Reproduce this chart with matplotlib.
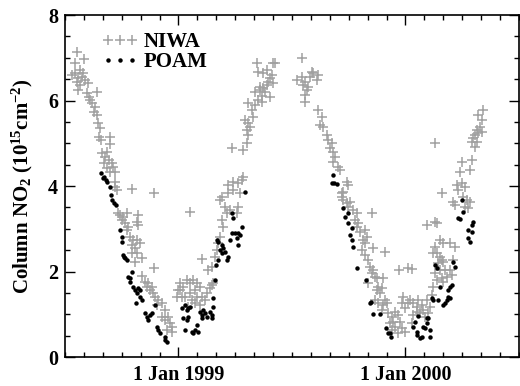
import matplotlib
matplotlib.use("Agg")
import matplotlib.pyplot as plt
import numpy as np

# NIWA ground-based column NO2 (decimal year, 1e15 cm^-2)
niwa_t = [
    1998.553, 1998.584, 1998.544, 1998.531, 1998.544, 1998.566, 1998.575, 1998.557, 1998.588, 1998.553,
    1998.566, 1998.557, 1998.601, 1998.579, 1998.597, 1998.606, 1998.610, 1998.641, 1998.619, 1998.632,
    1998.628, 1998.641, 1998.645, 1998.654, 1998.650, 1998.659, 1998.698, 1998.698, 1998.663, 1998.676,
    1998.685, 1998.694, 1998.672, 1998.707, 1998.711, 1998.685, 1998.698, 1998.720, 1998.720, 1998.720,
    1998.795, 1998.892, 1998.729, 1998.742, 1998.755, 1998.751, 1998.733, 1998.773, 1998.822, 1998.764,
    1998.778, 1998.773, 1998.817, 1998.822, 1998.786, 1998.800, 1998.817, 1998.795, 1998.808, 1998.830,
    1998.839, 1998.808, 1998.817, 1998.795, 1998.892, 1998.839, 1998.852, 1998.866, 1998.883, 1998.861,
    1998.874, 1998.888, 1998.896, 1998.910, 1998.927, 1998.905, 1998.941, 1998.927, 1998.941, 1998.954,
    1998.963, 1998.971, 1998.949, 1998.971, 1998.993, 1998.998, 1999.007,
    1999.007, 1999.020, 1999.037, 1999.051, 1999.064, 1999.081, 1999.095, 1999.073, 1999.051, 1999.081,
    1999.104, 1999.117, 1999.126, 1999.139, 1999.148, 1999.152, 1999.059, 1999.073, 1999.042, 1999.029,
    1999.015, 1999.095,
    1999.130, 1999.148, 1999.104, 1999.051, 1999.161, 1999.170, 1999.174, 1999.183, 1999.196, 1999.192,
    1999.214, 1999.227, 1999.205, 1999.183, 1999.192, 1999.218, 1999.240, 1999.262, 1999.258, 1999.271,
    1999.218, 1999.240, 1999.262, 1999.280, 1999.284, 1999.236, 1999.284, 1999.302, 1999.306, 1999.302,
    1999.315, 1999.306, 1999.293, 1999.328, 1999.324, 1999.337, 1999.306, 1999.350, 1999.337, 1999.359,
    1999.372, 1999.390, 1999.394, 1999.403, 1999.416, 1999.359, 1999.381, 1999.412, 1999.350, 1999.346,
    1999.372, 1999.425, 1999.368, 1999.390, 1999.416, 1999.403, 1999.368,
    1999.544, 1999.522, 1999.544, 1999.557, 1999.579, 1999.593, 1999.610, 1999.570, 1999.548, 1999.588,
    1999.615, 1999.566, 1999.557, 1999.557, 1999.615, 1999.632, 1999.623, 1999.637, 1999.654, 1999.659,
    1999.676, 1999.667, 1999.681, 1999.689, 1999.681, 1999.703, 1999.711, 1999.742, 1999.747, 1999.725,
    1999.720,
    1999.720, 1999.725, 1999.742, 1999.756, 1999.747, 1999.769, 1999.786, 1999.778, 1999.791, 1999.786,
    1999.800, 1999.822, 1999.813, 1999.822, 1999.808, 1999.852, 1999.830, 1999.857, 1999.910, 1999.822,
    1999.835, 1999.844, 1999.857, 1999.852, 1999.866, 1999.874, 1999.835, 1999.901, 1999.879, 1999.896,
    1999.874, 1999.888, 1999.866, 1999.910, 1999.879, 1999.901, 1999.919, 1999.896, 1999.923, 1999.941,
    1999.954, 1999.967, 1999.945, 1999.932, 1999.954, 1999.976, 1999.985, 1999.998, 1999.941, 1999.967,
    1999.989, 1999.985, 1999.998, 2000.011, 1999.971, 2000.011,
    2000.020, 2000.033, 2000.051, 2000.055, 2000.073, 2000.077, 2000.064, 2000.086, 2000.099, 2000.108,
    2000.095, 2000.051, 2000.033, 2000.029, 2000.117, 2000.121, 2000.139, 2000.130, 2000.161, 2000.165,
    2000.183, 2000.205, 2000.196, 2000.174, 2000.152, 2000.143, 2000.139, 2000.121, 2000.152, 2000.161,
    2000.165, 2000.152, 2000.165, 2000.130, 2000.196, 2000.218, 2000.209, 2000.029, 2000.095, 2000.130,
    2000.139, 2000.161, 2000.218, 2000.209, 2000.231, 2000.253, 2000.271, 2000.275, 2000.262, 2000.284,
    2000.130, 2000.341, 2000.319, 2000.337, 2000.328, 2000.315, 2000.306, 2000.297, 2000.315, 2000.293,
    2000.306, 2000.319, 2000.337, 2000.249, 2000.293, 2000.240, 2000.284, 2000.227, 2000.249, 2000.262,
]
niwa_no2 = [
    7.13, 6.97, 6.88, 6.60, 6.64, 6.71, 6.55, 6.53, 6.48, 6.43,
    6.36, 6.25, 6.41, 6.64, 6.18, 6.08, 6.01, 6.20, 5.94, 5.85,
    5.73, 5.66, 5.47, 5.36, 5.15, 5.08, 5.15, 4.98, 4.77, 4.68,
    4.80, 4.61, 4.54, 4.54, 4.44, 4.42, 4.33, 4.33, 4.09, 3.98,
    3.93, 3.84, 3.91, 3.32, 3.27, 3.20, 3.37, 3.37, 3.32, 3.13,
    3.04, 2.97, 3.16, 3.09, 2.81, 2.74, 2.74, 2.62, 2.55, 2.67,
    2.32, 2.22, 2.43, 2.43, 2.08, 1.89, 1.75, 1.73, 1.64, 1.64,
    1.57, 1.50, 1.40, 1.33, 1.26, 1.22, 1.10, 0.94, 0.87, 0.94,
    0.80, 0.70, 0.63, 0.58, 1.40, 1.57, 1.73,
    1.57, 1.64, 1.80, 1.73, 1.80, 1.73, 1.64, 1.57, 1.50, 1.40,
    1.40, 1.33, 1.50, 1.61, 1.68, 1.73, 1.33, 1.26, 1.17, 1.40,
    1.40, 1.22,
    2.04, 2.11, 2.29, 3.39, 2.34, 2.50, 2.67, 2.81, 3.04, 3.20,
    3.37, 3.44, 3.51, 3.67, 3.74, 3.84, 3.91, 3.51, 3.37, 3.84,
    4.02, 4.09, 4.07, 4.14, 4.21, 4.89, 4.84, 5.01, 5.19, 5.31,
    5.38, 5.47, 5.54, 5.61, 5.78, 5.89, 5.94, 6.01, 6.20, 6.25,
    6.29, 6.36, 6.43, 6.53, 6.41, 6.32, 6.20, 6.60, 6.67, 6.88,
    6.64, 6.88, 6.11, 6.71, 6.88, 6.08, 5.96,
    6.99, 6.48, 6.55, 6.43, 6.55, 6.64, 6.48, 6.32, 6.36, 6.67,
    6.60, 6.25, 6.13, 5.96, 5.78, 5.61, 5.43, 5.38, 5.19, 5.08,
    5.01, 4.89, 4.80, 4.68, 4.56, 4.44, 4.37, 4.09, 4.02, 3.86,
    3.74,
    3.84, 3.67, 3.60, 3.63, 3.51, 3.44, 3.37, 3.20, 3.13, 3.04,
    2.92, 2.97, 2.74, 2.67, 2.50, 3.37, 2.81, 2.55, 2.46, 2.39,
    2.27, 2.11, 2.04, 1.96, 1.87, 1.85, 1.73, 1.85, 1.64, 1.61,
    1.57, 1.50, 1.33, 1.33, 1.26, 1.22, 1.26, 1.10, 1.03, 0.94,
    1.05, 0.98, 0.82, 0.80, 0.70, 0.82, 0.68, 0.58, 0.63, 0.56,
    1.40, 1.26, 1.15, 1.26, 2.04, 2.08,
    1.33, 1.26, 1.17, 1.33, 1.22, 1.10, 1.03, 0.94, 1.03, 1.17,
    1.33, 1.05, 0.98, 0.80, 1.45, 1.64, 1.80, 1.96, 1.85, 1.75,
    1.87, 1.92, 2.04, 2.04, 2.04, 2.20, 2.43, 2.43, 2.34, 2.27,
    2.22, 2.74, 2.67, 2.57, 2.67, 2.57, 2.27, 2.06, 3.09, 3.16,
    3.13, 3.84, 3.56, 3.63, 3.91, 3.74, 3.67, 3.49, 3.51, 3.63,
    5.01, 5.78, 5.66, 5.54, 5.38, 5.31, 5.19, 5.12, 5.03, 5.03,
    4.91, 5.24, 5.26, 4.56, 4.61, 4.33, 4.37, 4.02, 4.07, 3.98,
]

# POAM satellite column NO2
poam_t = [
    1998.659, 1998.672, 1998.681, 1998.667, 1998.685, 1998.698, 1998.703, 1998.707, 1998.716, 1998.725,
    1998.742, 1998.751, 1998.751, 1998.755, 1998.764, 1998.773, 1998.760, 1998.778, 1998.786, 1998.795,
    1998.786, 1998.800, 1998.808, 1998.817, 1998.822, 1998.830, 1998.830, 1998.839, 1998.813, 1998.852,
    1998.861, 1998.866, 1998.874, 1998.883, 1998.896, 1998.905, 1998.910, 1998.919, 1998.941, 1998.949,
    1998.941,
    1999.015, 1999.029, 1999.037, 1999.042, 1999.051, 1999.020, 1999.037, 1999.042, 1999.029, 1999.059,
    1999.064, 1999.073, 1999.081, 1999.086, 1999.095, 1999.104, 1999.108, 1999.104, 1999.117, 1999.126,
    1999.139, 1999.148, 1999.148, 1999.152, 1999.152, 1999.161, 1999.165, 1999.174, 1999.183, 1999.170,
    1999.174, 1999.192, 1999.196, 1999.205, 1999.192, 1999.218, 1999.214, 1999.227, 1999.236, 1999.249,
    1999.258, 1999.262, 1999.271, 1999.262, 1999.280, 1999.240, 1999.236, 1999.293,
    1999.681, 1999.676, 1999.685, 1999.698,
    1999.725, 1999.733, 1999.747, 1999.747, 1999.764, 1999.756, 1999.764, 1999.769, 1999.786, 1999.826,
    1999.844, 1999.848, 1999.857, 1999.888, 1999.914, 1999.923, 1999.932, 1999.936,
    2000.055, 2000.042, 2000.033, 2000.051, 2000.051, 2000.064, 2000.073, 2000.086, 2000.095, 2000.099,
    2000.077, 2000.108, 2000.108, 2000.095, 2000.117, 2000.121, 2000.143, 2000.152, 2000.165, 2000.174,
    2000.183, 2000.187, 2000.196, 2000.187, 2000.196, 2000.205, 2000.130, 2000.139, 2000.209, 2000.218,
    2000.275, 2000.284, 2000.275, 2000.293, 2000.297, 2000.293, 2000.231, 2000.240, 2000.253, 2000.249,
]
poam_no2 = [
    4.30, 4.21, 4.14, 4.19, 4.09, 3.98, 3.79, 3.67, 3.60, 3.56,
    2.97, 2.81, 2.69, 2.39, 2.32, 2.27, 2.34, 1.87, 1.85, 1.99,
    1.75, 1.64, 1.57, 1.50, 1.61, 1.57, 1.40, 1.33, 1.26, 1.03,
    0.94, 0.87, 0.98, 1.03, 1.22, 0.70, 0.63, 0.56, 0.47, 0.35,
    0.40,
    1.15, 1.22, 1.10, 1.15, 1.17, 0.91, 0.87, 0.94, 0.63, 0.58,
    0.56, 0.63, 0.75, 0.58, 1.05, 0.98, 1.10, 0.91, 1.03, 0.94,
    1.05, 0.98, 0.91, 1.17, 1.38, 1.80, 2.15, 2.27, 2.50, 2.74,
    2.69, 2.62, 2.55, 2.46, 2.43, 2.34, 2.27, 2.74, 2.90, 2.90,
    2.78, 2.90, 2.85, 2.62, 3.04, 3.25, 3.37, 3.86,
    4.26, 4.07, 4.07, 4.05,
    3.49, 3.27, 3.37, 3.13, 3.02, 2.85, 2.74, 2.57, 2.08, 1.80,
    1.26, 1.29, 1.01, 1.01, 0.68, 0.56, 0.56, 0.47,
    0.96, 0.82, 0.70, 0.58, 0.51, 0.44, 0.47, 0.68, 0.80, 0.91,
    0.70, 0.63, 0.47, 0.91, 1.38, 1.33, 1.33, 1.64, 1.22, 1.26,
    1.33, 1.40, 1.38, 1.57, 1.64, 1.68, 2.15, 2.08, 2.22, 2.11,
    2.78, 2.69, 2.97, 3.09, 3.16, 2.92, 3.25, 3.23, 3.39, 3.67,
]

major_x = [1999.0, 2000.0]
major_x_labels = ['1 Jan 1999', '1 Jan 2000']

plt.rcParams['font.family'] = ['Liberation Serif', 'DejaVu Serif']
plt.rcParams['font.weight'] = 'bold'
plt.rcParams['axes.labelweight'] = 'bold'
plt.rcParams['mathtext.fontset'] = 'custom'
plt.rcParams['mathtext.rm'] = 'Liberation Serif:bold'
plt.rcParams['mathtext.bf'] = 'Liberation Serif:bold'
plt.rcParams['mathtext.it'] = 'Liberation Serif:bold'
plt.rcParams['mathtext.default'] = 'bf'

fig = plt.figure(figsize=(5.2, 3.86), dpi=100)
ax = fig.add_axes([0.125, 0.075, 0.873, 0.886])

ax.plot(niwa_t, niwa_no2, linestyle='none', marker='+', markersize=7,
        markeredgewidth=1.1, color='#a0a0a0', label='NIWA')
ax.plot(poam_t, poam_no2, linestyle='none', marker='o', markersize=3.2,
        markeredgewidth=0, color='black', label='POAM')

ax.set_xlim(1998.5, 2000.5)
ax.set_ylim(0, 8)
ax.set_xticks(major_x)
ax.set_xticklabels(major_x_labels)
ax.set_xticks(np.arange(1998.5, 2000.5 + 1e-6, 1 / 12), minor=True)
ax.set_yticks([0, 2, 4, 6, 8])
ax.set_yticks(np.arange(0, 8.01, 0.5), minor=True)

ax.tick_params(which='both', direction='in', top=True, right=True, width=1.0)
ax.tick_params(which='major', length=7, labelsize=14.5)
ax.tick_params(which='minor', length=3.5)
ax.tick_params(axis='x', which='major', pad=5.5)
ax.tick_params(axis='y', which='major', pad=5)
for s in ax.spines.values():
    s.set_linewidth(1.2)

ax.set_ylabel('Column NO$_2$ (10$^{15}$cm$^{-2}$)', fontsize=15,
              fontweight='bold', labelpad=9)

ax.legend(loc='upper left', bbox_to_anchor=(0.08, 0.95), frameon=False,
          numpoints=3, handlelength=1.75, handletextpad=0.3, borderpad=0,
          borderaxespad=0, labelspacing=0.0, prop={'size': 15, 'weight': 'bold'})

fig.savefig('out.png', dpi=100)
